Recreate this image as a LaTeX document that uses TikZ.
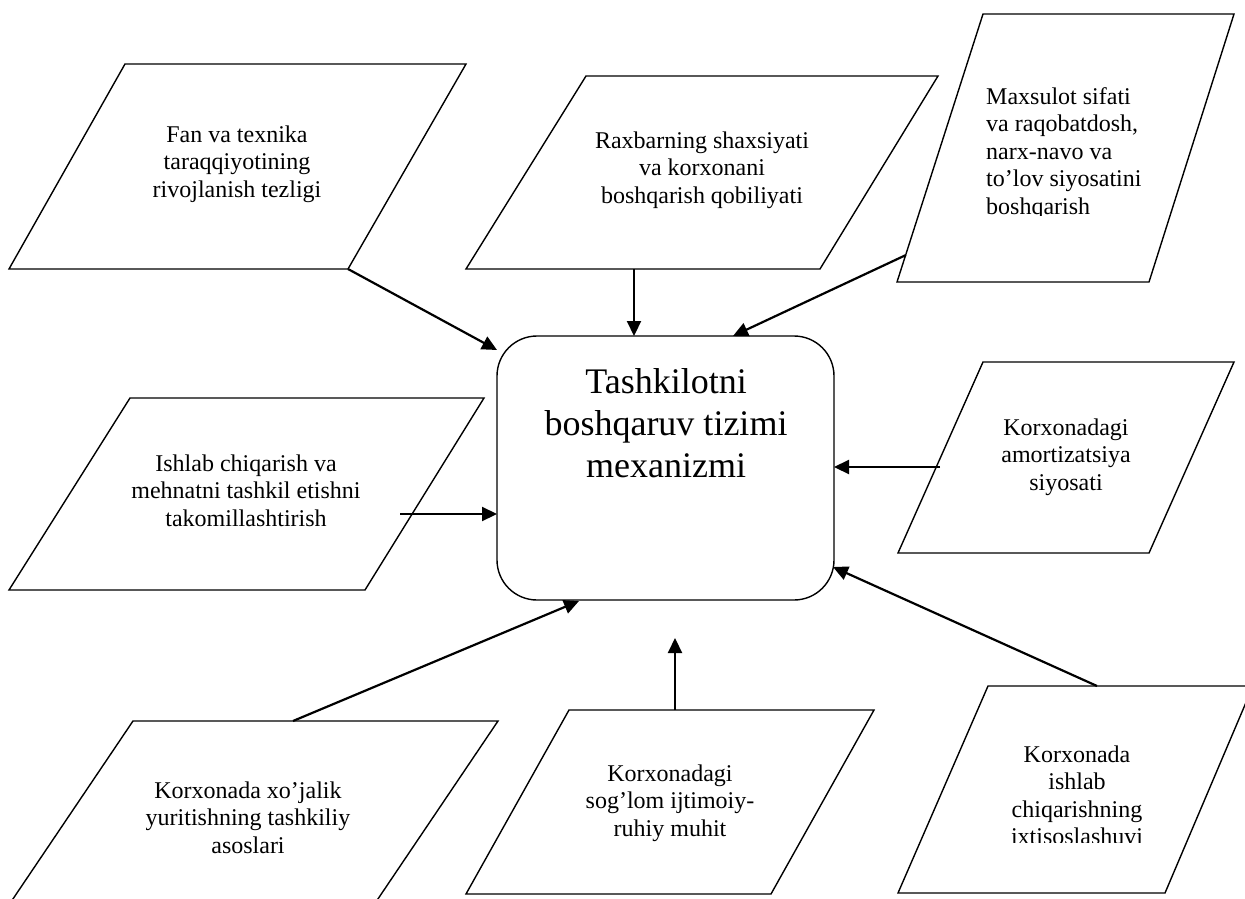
\documentclass[tikz,border=0pt]{standalone}
\usepackage{fontspec}
\setmainfont{Liberation Serif}
\usetikzlibrary{arrows.meta}
\begin{document}
\begin{tikzpicture}[x=1pt,y=-1pt,
  para/.style={draw, line width=1.4pt, fill=white},
  lbl/.style={align=center, inner sep=0pt, anchor=base, font=\fontsize{24}{27.5}\selectfont},
  arr/.style={-{Triangle[length=15pt,width=14pt]}, line width=2.2pt}]
\path[use as bounding box, clip] (0,0) rectangle (1245,899);
% the eight factors
\draw[para] (125,64) -- (466,64) -- (348,269) -- (9,269) -- cycle;
\draw[para] (586,76) -- (938,76) -- (820,269) -- (466,269) -- cycle;
\draw[para] (983,14) -- (1234,14) -- (1149,282) -- (897,282) -- cycle;
\draw[para] (130,398) -- (484,398) -- (365,590) -- (9,590) -- cycle;
\draw[para] (983,362) -- (1234,362) -- (1149,553) -- (898,553) -- cycle;
\draw[para] (133,721) -- (498,721) -- (357,930) -- (-8,930) -- cycle;
\draw[para] (569,710) -- (874,710) -- (771,894) -- (466,894) -- cycle;
\draw[para] (988,686) -- (1253,686) -- (1165,893) -- (898,893) -- cycle;
\node[draw, line width=1.4pt, rounded corners=40pt, minimum width=337pt, minimum height=264pt] (mech) at (665.5,468) {};
\node[align=center, inner sep=0pt, anchor=base, font=\fontsize{36}{42}\selectfont] (mechlabel) at (666,477) {Tashkilotni\\boshqaruv tizimi\\mexanizmi};
\node[lbl] (fan) at (237,197) {Fan va texnika\\taraqqiyotining\\rivojlanish tezligi};
\node[lbl] (rax) at (702,203) {Raxbarning shaxsiyati\\va korxonani\\boshqarish qobiliyati};
\begin{scope}
\clip (900,0) rectangle (1245,215);
\node[lbl, align=left, anchor=base west] (max) at (986,214) {Maxsulot sifati\\va raqobatdosh,\\narx-navo va\\to’lov siyosatini\\boshqarish};
\end{scope}
\node[lbl] (ish) at (246,526) {Ishlab chiqarish va\\mehnatni tashkil etishni\\takomillashtirish};
\node[lbl] (amort) at (1066,490) {Korxonadagi\\amortizatsiya\\siyosati};
\node[lbl] (xojalik) at (248,853) {Korxonada xo’jalik\\yuritishning tashkiliy\\asoslari};
\node[lbl] (sog) at (670,836) {Korxonadagi\\sog’lom ijtimoiy-\\ruhiy muhit};
\begin{scope}
\clip (900,686) rectangle (1245,842);
\node[lbl] (ixtis) at (1077,844.5) {Korxonada\\ishlab\\chiqarishning\\ixtisoslashuvi};
\end{scope}
% arrow ends
\coordinate (fan-out) at (348,269);
\coordinate (rax-out) at (634,269);
\coordinate (max-out) at (906,255);
\coordinate (ish-out) at (400,514);
\coordinate (amort-out) at (940,467);
\coordinate (xojalik-out) at (293,721);
\coordinate (sog-out) at (675,710);
\coordinate (sog-end) at (675,638);
\coordinate (ixtis-out) at (1097,686);
\coordinate (mech-a) at (497,350);
\coordinate (mech-b) at (634,336);
\coordinate (mech-c) at (733,336);
\coordinate (mech-d) at (497,514);
\coordinate (mech-e) at (834,467);
\coordinate (mech-f) at (579,601);
\coordinate (mech-g) at (833,567);
\draw[arr] (fan-out) -- (mech-a);
\draw[arr] (rax-out) -- (mech-b);
\draw[arr] (max-out) -- (mech-c);
\draw[arr] (ish-out) -- (mech-d);
\draw[arr] (amort-out) -- (mech-e);
\draw[arr] (xojalik-out) -- (mech-f);
\draw[arr] (sog-out) -- (sog-end);
\draw[arr] (ixtis-out) -- (mech-g);
\end{tikzpicture}
\end{document}
